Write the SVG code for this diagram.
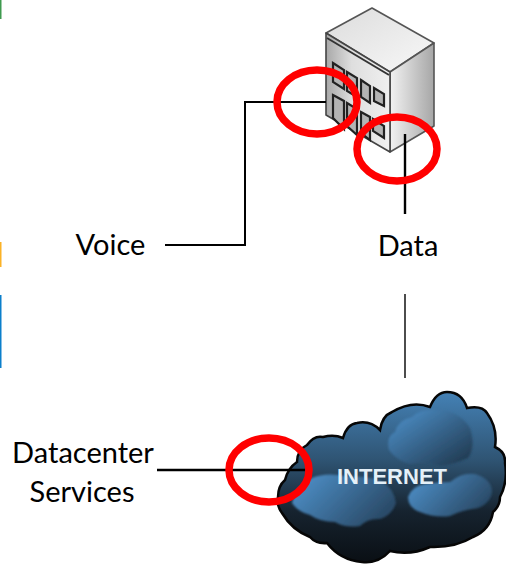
<svg xmlns="http://www.w3.org/2000/svg" width="506" height="564" viewBox="0 0 506 564">
<defs>
<style>
.lbl{font-family:"Lato","Open Sans","Liberation Sans",sans-serif;font-size:29px;fill:#000;text-anchor:middle}
.ring{fill:none;stroke:#f00;stroke-width:7.5}
.wire{fill:none;stroke:#000;stroke-width:2}
.win{fill:#b4b4b4;stroke:#222;stroke-width:2.2}
</style>
<linearGradient id="roof" x1="0" y1="0" x2="1" y2="1"><stop offset="0" stop-color="#dcdcdc"/><stop offset="1" stop-color="#f8f8f8"/></linearGradient>
<linearGradient id="sideR" x1="0" y1="0" x2="1" y2="0"><stop offset="0" stop-color="#f2f2f2"/><stop offset="1" stop-color="#a6a6a6"/></linearGradient>
<linearGradient id="sideL" x1="0" y1="0" x2="1" y2="0"><stop offset="0" stop-color="#a8a8a8"/><stop offset=".4" stop-color="#dedede"/><stop offset="1" stop-color="#f0f0f0"/></linearGradient>
<linearGradient id="cloud" x1="0" y1="0" x2="0" y2="1"><stop offset="0" stop-color="#4481b5"/><stop offset=".4" stop-color="#2f5473"/><stop offset=".7" stop-color="#16232f"/><stop offset="1" stop-color="#0a0f14"/></linearGradient>
<linearGradient id="puff" x1="0" y1="0" x2="1" y2="1"><stop offset="0" stop-color="#5095d0"/><stop offset="1" stop-color="#1d3347"/></linearGradient>
<linearGradient id="puff2" x1="0" y1="0" x2="1" y2=".5"><stop offset="0" stop-color="#5095d0"/><stop offset="1" stop-color="#2b4c6a"/></linearGradient>
<filter id="soft"><feGaussianBlur stdDeviation="0.8"/></filter>
</defs>
<g id="edge-marks">
<rect x="0" y="0" width="1.5" height="19" fill="#3f9a4f"/>
<rect x="0" y="242" width="1.5" height="25" fill="#fbb226"/>
<rect x="0" y="295" width="1.5" height="73" fill="#0b7fcb"/>
</g>
<g id="building">
<polygon points="326,33 372,8 434,43 390,72" fill="url(#roof)" stroke="#555" stroke-width="1.6" stroke-linejoin="round"/>
<polygon points="390,72 434,43 434,126 390,152" fill="url(#sideR)" stroke="#555" stroke-width="1.6" stroke-linejoin="round"/>
<polygon points="326,33 390,72 390,152 326,115" fill="url(#sideL)" stroke="#444" stroke-width="1.6" stroke-linejoin="round"/>
<line x1="327" y1="38" x2="389" y2="75" stroke="#333" stroke-width="2"/>
<polygon class="win" points="333,63 344,70 344,89 333,82"/>
<polygon class="win" points="347,72 357,78 357,97 347,91"/>
<polygon class="win" points="361,80 370,86 370,103 361,97"/>
<polygon class="win" points="374,88 384,94 384,106 374,101"/>
<polygon class="win" points="333,95 344,101 344,129 333,118"/>
<polygon class="win" points="347,103 357,109 357,135 347,126"/>
<polygon class="win" points="361,112 370,117 370,140 361,133"/>
<polygon class="win" points="373,119 384,126 384,138 373,131"/>
</g>
<g id="cloud-internet">
<path d="M278,497 Q278,486 285,480 Q288,468 297,462 Q297,450 307,445 Q314,435 323,437 Q334,434 343,438 Q347,424 357,423 Q370,420 380,430 Q382,416 392,412 Q412,400 430,407 Q436,392 447,392 Q462,392 467,408 Q482,405 487,413 Q498,428 495,447 Q506,452 505,463 Q508,482 500,497 Q500,506 493,512 Q490,530 473,537 Q455,548 430,547 Q410,556 390,551 Q378,564 362,562 Q340,560 327,543 Q316,544 310,537 Q292,530 282,513 Q276,505 278,497 Z" fill="url(#cloud)" stroke="#060606" stroke-width="2.5"/>
<g filter="url(#soft)">
<path d="M389,450 Q386,436 395,432 Q398,420 412,417 Q420,408 440,410 Q460,412 470,428 Q476,447 468,458 Q455,464 440,466 Q425,460 410,464 Q396,460 389,450 Z" fill="url(#puff)"/>
<path d="M292,503 Q295,488 312,478 Q325,472 345,476 Q365,476 380,480 Q394,488 396,503 Q392,515 380,519 Q368,518 360,526 Q345,528 335,522 Q320,522 310,515 Q298,512 292,503 Z" fill="url(#puff2)"/>
<path d="M408,497 Q412,486 425,484 Q438,482 450,482 Q462,472 475,474 Q490,478 492,490 Q492,502 478,508 Q462,510 450,516 Q435,518 420,512 Q408,508 408,497 Z" fill="url(#puff2)"/>
</g>
<text x="392" y="484" font-family="'Liberation Sans',Arial,sans-serif" font-size="22" font-weight="700" fill="#e4f0f8" text-anchor="middle">INTERNET</text>
</g>
<g id="connectors">
<polyline class="wire" points="165,245 245,245 245,102 326,102"/>
<line class="wire" x1="405" y1="134" x2="405" y2="214" style="stroke-width:2.4"/>
<line class="wire" x1="405" y1="294" x2="405" y2="378" style="stroke-width:1.4"/>
<line class="wire" x1="157" y1="470" x2="305" y2="470" style="stroke-width:2.4"/>
</g>
<g id="rings">
<ellipse class="ring" cx="317" cy="102" rx="40" ry="32"/>
<ellipse class="ring" cx="397" cy="149" rx="40" ry="32"/>
<ellipse class="ring" cx="269" cy="470" rx="40" ry="32"/>
</g>
<g id="label-voice"><text class="lbl" x="110.500" y="255">Voice</text></g>
<g id="label-data"><text class="lbl" x="408" y="256">Data</text></g>
<g id="label-services"><text class="lbl" x="83" y="463">Datacenter</text><text class="lbl" x="82" y="502">Services</text></g>
</svg>
